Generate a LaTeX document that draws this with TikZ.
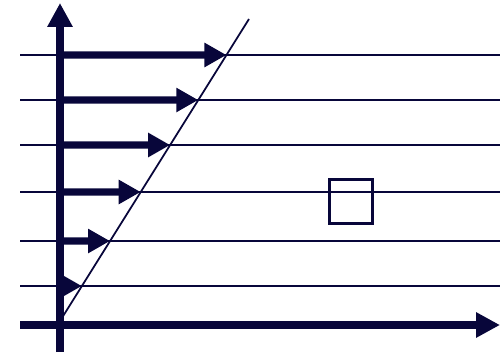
\documentclass[tikz,border=0pt]{standalone}
\usepackage{tikz}
\usetikzlibrary{arrows.meta, calc}
\definecolor{inkblue}{RGB}{8,6,58}

\begin{document}
\begin{tikzpicture}[
    x=0.02cm, y=-0.02cm,
    axis/.style={-{Triangle[length=0.48cm, width=0.48cm]}, line width=4.4pt, draw=inkblue},
    level/.style={line width=1.05pt, draw=inkblue},
    slope/.style={line width=1pt, draw=inkblue},
    flow/.style={-{Triangle[length=0.44cm, width=0.46cm]}, line width=4pt, draw=inkblue},
    cell/.style={rectangle, draw=inkblue, line width=1.7pt, minimum size=0.87cm, inner sep=0pt}
]
    \useasboundingbox (0,0) rectangle (500,355);

    % axes end points
    \coordinate (origin) at (60,325);
    \coordinate (ybot) at (60,352);
    \coordinate (ytop) at (60,3);
    \coordinate (xleft) at (20,325);
    \coordinate (xright) at (500,325);

    % the velocity profile line
    \coordinate (dstart) at (60,321);
    \coordinate (dend) at (249,19);

    % layers with their arrows
    \foreach \i/\h in {1/55, 2/100, 3/145, 4/192, 5/241, 6/286} {
        \coordinate (left\i) at (20,\h);
        \coordinate (right\i) at (500,\h);
        \coordinate (base\i) at (60,\h);
        \coordinate (tip\i) at ($(dstart)!{(321-\h)/302}!(dend)$);
        \draw[level] (left\i) -- (right\i);
    }
    \draw[slope] (dstart) -- (dend);
    \foreach \i in {1,...,6} {
        \draw[flow] (base\i) -- (tip\i);
    }

    \node[cell] (box) at (351,201.5) {};

    \draw[axis] (ybot) -- (ytop);
    \draw[axis] (xleft) -- (xright);
\end{tikzpicture}
\end{document}
